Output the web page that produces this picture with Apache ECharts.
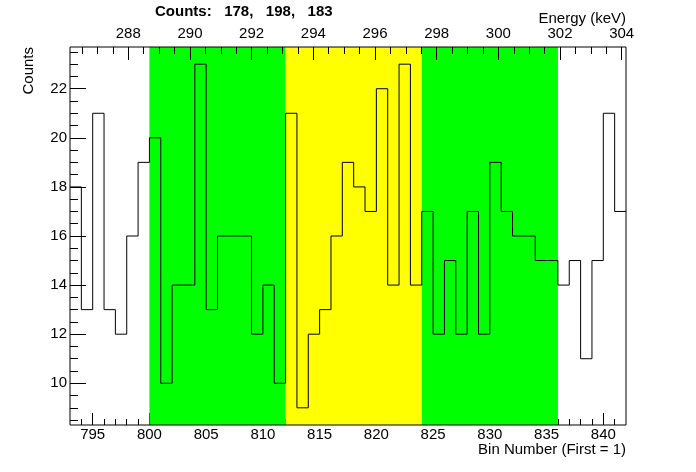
<!DOCTYPE html>
<html><head><meta charset="utf-8">
<script src="https://cdn.jsdelivr.net/npm/echarts@6/dist/echarts.min.js"></script>
<style>html,body{margin:0;padding:0;background:#fff}#c{width:696px;height:472px}</style>
</head><body><div id="c"></div>
<script>
const binStart = 793;
const counts = [18,13,21,13,12,16,19,20,10,14,14,23,13,16,16,16,12,14,10,21,9,12,13,16,19,18,17,22,14,23,14,17,12,15,12,17,12,19,17,16,16,15,15,14,15,11,15,21,17];
const regionEdges = [800, 812, 824, 836];
const regionColors = ['#00ff00', '#ffff00', '#00ff00'];
const regionSums = [178, 198, 183];
const binRange = [793, 842];
const binTicks = [795, 800, 805, 810, 815, 820, 825, 830, 835, 840];
const binMinorTicks = [794,795,796,797,798,799,800,801,802,803,804,805,806,807,808,809,810,811,812,813,814,815,816,817,818,819,820,821,822,823,824,825,826,827,828,829,830,831,832,833,834,835,836,837,838,839,840,841];
const energyRange = [286.11, 304.14];
const energyTicks = [288, 290, 292, 294, 296, 298, 300, 302, 304];
const energyMinorTicks = [286.5,287,287.5,288,288.5,289,289.5,290,290.5,291,291.5,292,292.5,293,293.5,294,294.5,295,295.5,296,296.5,297,297.5,298,298.5,299,299.5,300,300.5,301,301.5,302,302.5,303,303.5,304];
const countRange = [8.3, 23.7];
const countTicks = [10, 12, 14, 16, 18, 20, 22];
const countMinorTicks = [8.5,9,9.5,10,10.5,11,11.5,12,12.5,13,13.5,14,14.5,15,15.5,16,16.5,17,17.5,18,18.5,19,19.5,20,20.5,21,21.5,22,22.5,23,23.5];

const FONT = '"Liberation Sans", Arial, Helvetica, sans-serif';
const histPoints = counts.map((v, i) => [binStart + i, v]);
histPoints.push([binStart + counts.length, counts[counts.length - 1]]);
const areas = [];
for (let i = 0; i < regionColors.length; i++) {
  areas.push([{xAxis: regionEdges[i], itemStyle: {color: regionColors[i], opacity: 1}}, {xAxis: regionEdges[i + 1]}]);
}
const lbl = {color: '#000', fontFamily: FONT, fontSize: 15};
const tk = (len, vals) => ({show: true, inside: true, length: len, customValues: vals, lineStyle: {color: '#000', width: 1}});

const chart = echarts.init(document.getElementById('c'), null, {renderer: 'canvas'});
chart.setOption({
  animation: false,
  backgroundColor: '#fff',
  title: [
    {text: 'Counts:   ' + regionSums.join(',   '), left: 155, top: 4, padding: 0,
     textStyle: {fontFamily: FONT, fontSize: 15, fontWeight: 'bold', color: '#000'}},
    {text: 'Energy (keV)', right: 70, top: 11, padding: 0,
     textStyle: {fontFamily: FONT, fontSize: 15, fontWeight: 'normal', color: '#000'}},
    {text: 'Bin Number (First = 1)', right: 70, top: 442, padding: 0,
     textStyle: {fontFamily: FONT, fontSize: 15, fontWeight: 'normal', color: '#000'}}
  ],
  graphic: [{type: 'text', x: 29, y: 47, rotation: Math.PI / 2,
    style: {text: 'Counts', font: '15px ' + FONT, fill: '#000', align: 'right', verticalAlign: 'middle'}}],
  grid: {left: 70, right: 70, top: 47, bottom: 47, show: true, borderColor: '#000', borderWidth: 1, backgroundColor: 'transparent', z: 10},
  xAxis: [
    {type: 'value', position: 'bottom', min: binRange[0], max: binRange[1], z: 0,
     axisLine: {show: false}, splitLine: {show: false},
     axisTick: tk(12, binTicks),
     axisLabel: Object.assign({customValues: binTicks, margin: 2}, lbl)},
    {type: 'value', position: 'bottom', min: binRange[0], max: binRange[1], z: 0,
     axisLine: {show: false}, splitLine: {show: false},
     axisTick: tk(6, binMinorTicks), axisLabel: {show: false}},
    {type: 'value', position: 'top', min: energyRange[0], max: energyRange[1], z: 12,
     axisLine: {show: false}, splitLine: {show: false},
     axisTick: tk(13, energyTicks),
     axisLabel: Object.assign({customValues: energyTicks, margin: 6}, lbl)},
    {type: 'value', position: 'top', min: energyRange[0], max: energyRange[1], z: 12,
     axisLine: {show: false}, splitLine: {show: false},
     axisTick: tk(7, energyMinorTicks), axisLabel: {show: false}}
  ],
  yAxis: [
    {type: 'value', position: 'left', min: countRange[0], max: countRange[1], z: 12,
     axisLine: {show: false}, splitLine: {show: false},
     axisTick: tk(16, countTicks),
     axisLabel: Object.assign({customValues: countTicks, margin: 3, padding: [3, 0, 0, 0]}, lbl)},
    {type: 'value', position: 'left', min: countRange[0], max: countRange[1], z: 12,
     axisLine: {show: false}, splitLine: {show: false},
     axisTick: tk(8, countMinorTicks), axisLabel: {show: false}}
  ],
  series: [
    {type: 'line', xAxisIndex: 0, yAxisIndex: 0, z: 1, silent: true,
     data: [[binRange[0], countRange[0]]], showSymbol: false, symbol: 'none',
     lineStyle: {width: 0, opacity: 0},
     markArea: {silent: true, data: areas}},
    {type: 'line', xAxisIndex: 0, yAxisIndex: 0, z: 3, step: 'end', silent: true,
     data: histPoints, showSymbol: false, symbol: 'none',
     lineStyle: {color: '#000', width: 1}}
  ]
});
</script></body></html>
